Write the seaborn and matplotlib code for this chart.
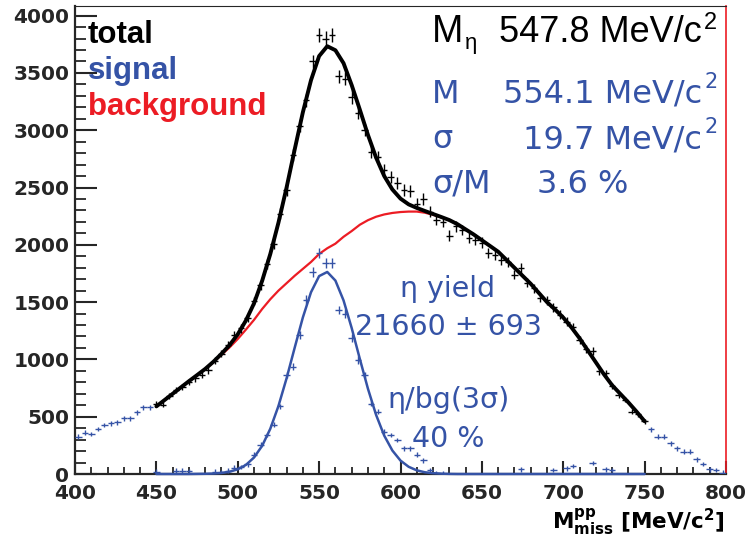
import numpy as np
import pandas as pd
import matplotlib
matplotlib.use("Agg")
import matplotlib.pyplot as plt
from matplotlib.ticker import MultipleLocator
import matplotlib.transforms as mtransforms
import seaborn as sns

# ---------------- data ----------------
bin_width = 4.0
# blue histogram outside the fit range (total counts)
left_tail_x = [402, 406, 410, 414, 418, 422, 426, 430, 434, 438, 442, 446]
left_tail_counts = [326, 361, 349, 393, 428, 442, 451, 486, 486, 538, 582, 582]
right_tail_x = [754, 758, 762, 766, 770, 774, 778, 782, 786, 790, 794, 798]
right_tail_counts = [390, 326, 326, 268, 224, 195, 195, 128, 87, 41, 35, 11]

# fit range bins
fit_bins_x = list(range(450, 751, 4))
total_counts = [615, 605, 680, 730, 760, 805, 835, 865, 905, 990,
                1050, 1130, 1215, 1270, 1360, 1510, 1650, 1830, 2010, 2270,
                2480, 2780, 3040, 3260, 3600, 3830, 3800, 3830, 3470, 3450,
                3290, 3150, 3000, 2810, 2770, 2650, 2590, 2540, 2480, 2470,
                2360, 2400, 2290, 2220, 2200, 2080, 2160, 2130, 2060, 2045,
                2020, 1925, 1910, 1870, 1850, 1740, 1795, 1670, 1620, 1540,
                1515, 1455, 1390, 1330, 1285, 1170, 1090, 1075, 895, 880,
                770, 690, 650, 545, 520, 460]
signal_counts = [20, -40, -40, 30, 30, 25, -40, -50, -40, 20,
                 15, 30, 55, 60, 85, 170, 256, 340, 430, 590,
                 865, 935, 1210, 1520, 1765, 1925, 1840, 1840, 1430, 1400,
                 1185, 995, 865, 615, 545, 370, 340, 295, 225, 225,
                 170, 120, 35, 5, 3, -120, -40, -40, -60, -40,
                 -40, -70, -50, -60, -40, -60, 40, -40, -40, -40,
                 -40, 35, -40, 50, 70, -40, -40, 95, -60, 40,
                 35, -40, -40, -60, -40, -40]

# fitted curves sampled every 5 MeV
curve_x = list(range(450, 751, 5))
background_fit = [590, 645, 700, 755, 810, 862, 915, 975, 1040, 1105,
                  1178, 1260, 1345, 1440, 1525, 1600, 1665, 1730, 1790, 1850,
                  1920, 1970, 2010, 2070, 2120, 2175, 2215, 2245, 2265, 2278,
                  2286, 2290, 2290, 2280, 2262, 2240, 2215, 2180, 2135, 2090,
                  2040, 1990, 1940, 1870, 1800, 1730, 1660, 1580, 1500, 1435,
                  1365, 1280, 1185, 1080, 975, 870, 775, 700, 625, 545,
                  460]
signal_fit = [0, 0, 0, 0, 0, 1, 2, 4, 9, 20,
              41, 79, 144, 246, 395, 593, 835, 1103, 1366, 1586,
              1727, 1763, 1688, 1515, 1274, 1005, 744, 516, 335, 205,
              117, 63, 32, 15, 7, 3, 1, 0, 0, 0,
              0, 0, 0, 0, 0, 0, 0, 0, 0, 0,
              0, 0, 0, 0, 0, 0, 0, 0, 0, 0,
              0]

legend_labels = ["total", "signal", "background"]

BLUE = "#3553a6"
RED = "#ec1c24"
BLACK = "#000000"

# ---------------- figure ----------------
sns.set_style("ticks")
plt.rcParams["font.family"] = ["DejaVu Sans"]

W, H = 750, 542
fig = plt.figure(figsize=(W / 100, H / 100), dpi=100)
L, R, T, B = 75, 726, 6, 474
ax = fig.add_axes([L / W, 1 - B / H, (R - L) / W, (B - T) / H])

curves = pd.DataFrame({"x": curve_x,
                       "bg": background_fit,
                       "sig": signal_fit})
curves["total"] = curves["bg"] + curves["sig"]

sns.lineplot(data=curves, x="x", y="bg", ax=ax, color=RED, linewidth=1.6,
             estimator=None, sort=False, zorder=3)
sns.lineplot(data=curves, x="x", y="total", ax=ax, color=BLACK, linewidth=2.8,
             estimator=None, sort=False, zorder=4)

tot = np.array(total_counts, float)
ax.errorbar(fit_bins_x, tot, xerr=bin_width / 2, yerr=np.sqrt(tot),
            fmt="none", ecolor=BLACK, elinewidth=1.0, capsize=0, zorder=5)

blue_x = np.array(left_tail_x + fit_bins_x + right_tail_x, float)
blue_y = np.array(left_tail_counts + signal_counts + right_tail_counts, float)
ax.errorbar(blue_x, blue_y, xerr=bin_width / 2,
            yerr=np.sqrt(np.clip(blue_y, 400, None)),
            fmt="none", ecolor=BLUE, elinewidth=1.0, capsize=0, zorder=5)

sns.lineplot(data=curves, x="x", y="sig", ax=ax, color=BLUE, linewidth=1.8,
             estimator=None, sort=False, zorder=6)
for ln in ax.lines:
    ln.set_clip_on(False)

ax.set_xlim(400, 800)
ax.set_ylim(0, 4084)
ax.set_xlabel("")
ax.set_ylabel("")
ax.xaxis.set_major_locator(MultipleLocator(50))
ax.xaxis.set_minor_locator(MultipleLocator(10))
ax.yaxis.set_major_locator(MultipleLocator(500))
ax.yaxis.set_minor_locator(MultipleLocator(100))
ax.tick_params(axis="y", which="major", direction="in", length=15.5, width=1.5,
               labelsize=14.5, pad=4)
ax.tick_params(axis="y", which="minor", direction="in", length=8, width=1.3)
ax.tick_params(axis="x", which="major", direction="in", length=9.5, width=1.5,
               labelsize=14.5, pad=7)
ax.tick_params(axis="x", which="minor", direction="in", length=5, width=1.3)
for lab in ax.get_xticklabels() + ax.get_yticklabels():
    lab.set_fontweight("bold")
# lift the y-axis "0" label a little so it does not touch the "400" label
fig.canvas.draw()
ylabs = ax.get_yticklabels()
if ylabs:
    ylabs[0].set_transform(ylabs[0].get_transform() +
                           mtransforms.ScaledTranslation(0, 2 / 72, fig.dpi_scale_trans))
for s in ["left", "bottom"]:
    ax.spines[s].set_linewidth(1.6)
ax.spines["top"].set_linewidth(0.8)
ax.spines["right"].set_linewidth(1.2)
ax.spines["right"].set_color(RED)


def ptext(x, y, s, **kw):
    return fig.text(x / W, 1 - y / H, s, va="baseline", **kw)


# legend-like labels
ARIAL = ["Liberation Sans", "DejaVu Sans"]
for lab, col, yb in zip(legend_labels, [BLACK, BLUE, RED], [43, 79, 115]):
    ptext(88, yb, lab, color=col, fontsize=22.5, fontweight="bold", family=ARIAL)

# eta mass line
ptext(432, 42, "M", color=BLACK, fontsize=27, family=ARIAL)
ptext(465, 49, "η", color=BLACK, fontsize=16, family=ARIAL)
ptext(702, 42, "547.8 MeV/c", color=BLACK, fontsize=26, family=ARIAL, ha="right")
ptext(704, 29, "2", color=BLACK, fontsize=17, family=ARIAL)

# fit parameters
ptext(432, 103, "M", color=BLUE, fontsize=23)
ptext(702, 103, "554.1 MeV/c", color=BLUE, fontsize=23, ha="right")
ptext(704, 88, "2", color=BLUE, fontsize=15)
ptext(432, 148, "σ", color=BLUE, fontsize=23)
ptext(702, 148, "19.7 MeV/c", color=BLUE, fontsize=23, ha="right")
ptext(704, 133, "2", color=BLUE, fontsize=15)
ptext(432, 193, "σ/M", color=BLUE, fontsize=23)
ptext(537, 193, "3.6 %", color=BLUE, fontsize=23)

# yield annotations
ptext(448, 297, "η yield", color=BLUE, fontsize=20.5, ha="center")
ptext(448, 335, "21660 ± 693", color=BLUE, fontsize=20.5, ha="center")
ptext(448, 408, "η/bg(3σ)", color=BLUE, fontsize=20.5, ha="center")
ptext(448, 447, "40 %", color=BLUE, fontsize=20.5, ha="center")

# axis title
ptext(725, 529, r"$\mathbf{M}^{\mathbf{pp}}_{\mathbf{miss}}$ [MeV/c$^{\mathbf{2}}$]",
      color=BLACK, fontsize=15.5, fontweight="bold", ha="right",
      math_fontfamily="dejavusans")

fig.savefig("out.png", dpi=100)
